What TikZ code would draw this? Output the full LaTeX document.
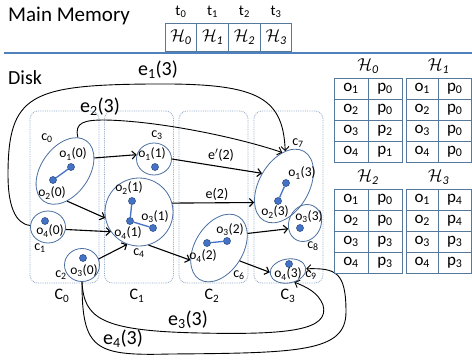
\documentclass[tikz,border=0pt]{standalone}
\usepackage{fontspec}
\setmainfont{Carlito}
\usetikzlibrary{arrows.meta,shapes.geometric}
\definecolor{sepblue}{HTML}{4F81BD}
\definecolor{nodeblue}{HTML}{4A6FA0}
\definecolor{dotfill}{HTML}{4472C4}
\definecolor{dotdraw}{HTML}{2F528F}
\definecolor{colblue}{HTML}{8DA6C4}
\definecolor{tblue}{HTML}{56789A}
\newcommand\sbs[1]{\textsubscript{#1}}
\newcommand\myfs[1]{\fontsize{#1}{#1}\selectfont}
\begin{document}
\begin{tikzpicture}[x=1pt,y=-1pt,
  cl/.style={draw=nodeblue,line width=0.8pt,ellipse,inner sep=0pt},
  dot/.style={circle,fill=dotfill,draw=dotdraw,line width=0.6pt,inner sep=0pt,minimum size=7pt},
  lnk/.style={draw=dotfill,line width=1.3pt},
  arr/.style={draw,line width=1.1pt,-{Straight Barb[length=4pt,width=8pt]}},
  crv/.style={draw,line width=0.9pt,-{Straight Barb[length=4pt,width=8pt]}},
  lbl/.style={font=\myfs{13.5},inner sep=0pt},
  clab/.style={font=\myfs{14},inner sep=0pt},
  elab/.style={font=\myfs{20},inner sep=0pt},
  slab/.style={font=\myfs{14},inner sep=0pt},
  Clab/.style={font=\myfs{16},inner sep=0pt},
  colbox/.style={draw=colblue,densely dotted,rounded corners=8pt,line width=0.8pt,minimum width=69pt,minimum height=172pt,inner sep=0pt},
  mcell/.style={draw=tblue,line width=1pt,minimum width=31.75pt,minimum height=28pt,inner sep=0pt,font=\myfs{17}},
  tcell/.style={draw=tblue,line width=1pt,minimum height=21pt,inner sep=0pt,font=\myfs{17}},
  hlab/.style={font=\myfs{17},inner sep=0pt}
]
\useasboundingbox (0,0) rectangle (472,360);
\fill[white] (0,0) rectangle (472,360);

% main memory
\node[anchor=west,font=\myfs{21},inner sep=0pt] (mm) at (8,16) {Main Memory};
\foreach \i/\cx in {0/180.9,1/212.6,2/244.4,3/276.1}{
  \node[font=\myfs{15},inner sep=0pt] (t\i) at (\cx,12) {t\sbs{\i}};
  \node[mcell] (m\i) at (\cx,37) {$\mathcal{H}_{\mathit{\i}}$};
}
\draw[sepblue,line width=1.5pt] (4,53) -- (472,53);

\node[anchor=west,font=\myfs{20},inner sep=0pt] (disk) at (8,78) {Disk};

% columns
\node[colbox] (C0box) at (64.5,197) {};
\node[colbox] (C1box) at (139,197) {};
\node[colbox] (C2box) at (213.5,197) {};
\node[colbox] (C3box) at (288.5,197) {};
\node[Clab] (C0) at (62,296) {C\sbs{0}};
\node[Clab] (C1) at (137,296) {C\sbs{1}};
\node[Clab] (C2) at (212,296) {C\sbs{2}};
\node[Clab] (C3) at (288,296) {C\sbs{3}};

% clusters
\node[cl,minimum width=74pt,minimum height=48pt,rotate=55] (c0) at (65,171) {};
\node[cl,minimum width=35pt,minimum height=32pt] (c1) at (48,227) {};
\node[cl,minimum width=35pt,minimum height=33pt] (c2) at (82,265) {};
\node[cl,minimum width=35pt,minimum height=32pt] (c3) at (154,159) {};
\node[cl,minimum width=68pt,minimum height=68pt] (c4) at (139,212) {};
\node[cl,minimum width=74pt,minimum height=48pt,rotate=58] (c6) at (219,248) {};
\node[cl,minimum width=80pt,minimum height=50pt,rotate=60] (c7) at (284,186) {};
\node[cl,minimum width=38pt,minimum height=32pt,rotate=65] (c8) at (305,223) {};
\node[cl,minimum width=36pt,minimum height=24pt,rotate=10] (c9) at (288,271) {};

% dots
\node[dot] (d01) at (71,167) {};
\node[dot] (d02) at (53,180) {};
\node[dot] (d14) at (45,221) {};
\node[dot] (d23) at (83,258) {};
\node[dot] (d31) at (155,167) {};
\node[dot] (d42) at (132,201) {};
\node[dot] (d44) at (130,221) {};
\node[dot] (d43) at (153,228) {};
\node[dot] (d64) at (207,243) {};
\node[dot] (d63) at (227,241) {};
\node[dot] (d71) at (286,183) {};
\node[dot] (d72) at (278,201) {};
\node[dot] (d83) at (300,228) {};
\node[dot] (d94) at (289,264) {};
\draw[lnk] (d01) -- (d02);
\draw[lnk] (d44) -- (d42);
\draw[lnk] (d44) -- (d43);
\draw[lnk] (d64) -- (d63);
\draw[lnk] (d71) -- (d72);

% labels
\node[lbl] (l01) at (73,154) {o\sbs{1}(0)};
\node[lbl] (l02) at (52,193) {o\sbs{2}(0)};
\node[clab] (lc0) at (47,138) {c\sbs{0}};
\node[lbl] (l14) at (50,231) {o\sbs{4}(0)};
\node[clab] (lc1) at (40,248) {c\sbs{1}};
\node[lbl] (l23) at (84,271) {o\sbs{3}(0)};
\node[clab] (lc2) at (61,275) {c\sbs{2}};
\node[lbl] (l31) at (152,154) {o\sbs{1}(1)};
\node[clab] (lc3) at (157,135) {c\sbs{3}};
\node[lbl] (l42) at (129,188) {o\sbs{2}(1)};
\node[lbl] (l43) at (155,217) {o\sbs{3}(1)};
\node[lbl] (l44) at (128,233) {o\sbs{4}(1)};
\node[clab] (lc4) at (139,253) {c\sbs{4}};
\node[lbl] (l63) at (230,230) {o\sbs{3}(2)};
\node[lbl] (l64) at (203,256) {o\sbs{4}(2)};
\node[clab] (lc6) at (239,275) {c\sbs{6}};
\node[lbl] (l71) at (302,173) {o\sbs{1}(3)};
\node[lbl] (l72) at (275,212) {o\sbs{2}(3)};
\node[clab] (lc7) at (298,143) {c\sbs{7}};
\node[lbl] (l83) at (309,217) {o\sbs{3}(3)};
\node[clab] (lc8) at (313,246) {c\sbs{8}};
\node[lbl] (l94) at (288,274) {o\sbs{4}(3)};
\node[clab] (lc9) at (311,275) {c\sbs{9}};

% straight arrows
\draw[arr] (c0.-31) -- (c3.166);
\draw[arr] (c0.-141) -- (c4.190);
\draw[arr] (c1.-8) -- (c4.215);
\draw[arr] (c2.20) -- (c4.250);
\draw[arr] (c3.0) -- (c7.90);
\draw[arr] (c4.15) -- (c7.149);
\draw[arr] (c4.-74) -- (c6.145);
\draw[arr] (c6.-31) -- (c8.134);
\draw[arr] (c6.-90) -- (c9.174);
\node[slab] (ep2) at (221,155) {e$'$(2)};
\node[slab] (e2l) at (217,194) {e(2)};

% curved edges
\draw[crv] (c1.175) .. controls (15,224) and (8,205) .. (8,175)
  .. controls (8,95) and (30,85) .. (150,84)
  .. controls (255,83) and (283,95) .. (c7.28);
\draw[crv] (c0.14) .. controls (74,122) and (85,120) .. (105,120)
  .. controls (160,121) and (240,138) .. (c7.33);
\draw[crv] (c2.-90) .. controls (84,318) and (100,331) .. (200,333)
  .. controls (290,335) and (330,330) .. (323,305)
  .. controls (318,292) and (306,287) .. (c9.-70);
\draw[crv] (c2.-90) .. controls (82,350) and (95,356) .. (170,354)
  .. controls (300,353) and (346,352) .. (346,312)
  .. controls (346,272) and (336,268) .. (c9.-3);
\node[elab] (e1l) at (158,70) {e\sbs{1}(3)};
\node[elab] (e2ll) at (100,107) {e\sbs{2}(3)};
\node[elab] (e3l) at (188,320) {e\sbs{3}(3)};
\node[elab] (e4l) at (123,339) {e\sbs{4}(3)};

% hash tables
\foreach \tn/\tx/\ty/\cw/\plist in {0/334/78/34/{0,0,2,1},1/406/78/32.5/{0,0,0,0},2/334/189/34/{0,0,3,3},3/406/189/32.5/{4,4,3,3}}{
  \foreach \p [count=\r] in \plist {
    \node[tcell,minimum width=\cw pt] (h\tn-\r-a) at (\tx+0.5*\cw,\ty+21*\r-10.5) {o\sbs{\r}};
    \node[tcell,minimum width=\cw pt] (h\tn-\r-b) at (\tx+1.5*\cw,\ty+21*\r-10.5) {p\sbs{\p}};
  }
  \node[hlab] (ht\tn) at (\tx+\cw,\ty-12) {$\mathcal{H}_{\mathit{\tn}}$};
}
\end{tikzpicture}
\end{document}
